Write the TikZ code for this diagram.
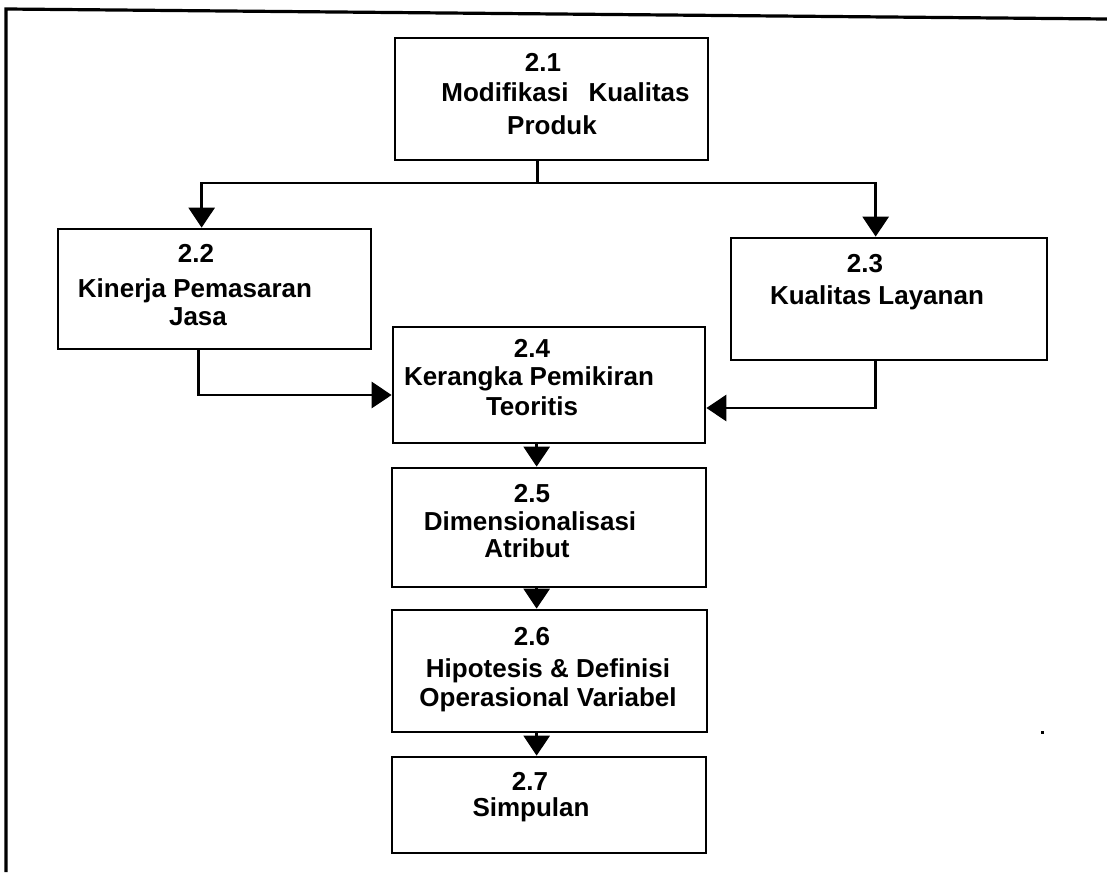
\documentclass[tikz,border=0pt]{standalone}
\usepackage{fontspec}
\setmainfont{Liberation Sans}
\usetikzlibrary{arrows.meta}
\begin{document}
\begin{tikzpicture}[x=1pt,y=-1pt,
  box/.style={draw,line width=2.7pt,inner sep=0pt},
  lbl/.style={anchor=base,inner sep=0pt,font=\fontsize{26}{31}\selectfont\bfseries},
  conn/.style={line width=2.7pt},
  arr/.style={conn,-{Triangle[width=26pt,length=20pt]}}]
\useasboundingbox (0,0) rectangle (1107,872);
% outer frame (left and top edges)
\coordinate (fa) at (6,872);
\coordinate (fb) at (6,9);
\coordinate (fc) at (1107,19);
\draw[line width=3.2pt] (fa) -- (fb) -- (fc);
% boxes
\node[box,minimum width=313pt,minimum height=122pt] (b21) at (551.5,99) {};
\node[box,minimum width=313pt,minimum height=120pt] (b22) at (214.5,289) {};
\node[box,minimum width=316pt,minimum height=122pt] (b23) at (889,299) {};
\node[box,minimum width=312pt,minimum height=116pt] (b24) at (549,385) {};
\node[box,minimum width=314pt,minimum height=119pt] (b25) at (549,527.5) {};
\node[box,minimum width=315pt,minimum height=122pt] (b26) at (549.5,671) {};
\node[box,minimum width=314pt,minimum height=96pt] (b27) at (549,805) {};
% labels
\node[lbl] (t21a) at (543,72) {2.1};
\node[lbl] (t21b) at (565.5,102) {Modifikasi\hspace{20pt}Kualitas};
\node[lbl] (t21c) at (552,135) {Produk};
\node[lbl] (t22a) at (196,262) {2.2};
\node[lbl] (t22b) at (195,297) {Kinerja Pemasaran};
\node[lbl] (t22c) at (198,325) {Jasa};
\node[lbl] (t23a) at (865,272) {2.3};
\node[lbl] (t23b) at (877,304) {Kualitas Layanan};
\node[lbl] (t24a) at (532,357) {2.4};
\node[lbl] (t24b) at (529,385) {Kerangka Pemikiran};
\node[lbl] (t24c) at (532,415) {Teoritis};
\node[lbl] (t25a) at (532,502) {2.5};
\node[lbl] (t25b) at (530,530) {Dimensionalisasi};
\node[lbl] (t25c) at (527,557) {Atribut};
\node[lbl] (t26a) at (532,645) {2.6};
\node[lbl] (t26b) at (548,677) {Hipotesis \& Definisi};
\node[lbl] (t26c) at (548,706) {Operasional Variabel};
\node[lbl] (t27a) at (530,790) {2.7};
\node[lbl] (t27b) at (531,816) {Simpulan};
% connectors
\path ([xshift=144pt]b21.south west) coordinate (s1);
\coordinate (j) at (s1 |- 0,183);
\draw[conn] (s1) -- (j);
\path ([xshift=145pt]b22.north west) coordinate (n2);
\path ([xshift=146pt]b23.north west) coordinate (n3);
\draw[arr] (j) -| (n2);
\draw[arr] (j) -| (n3);
\path ([xshift=142pt]b22.south west) coordinate (s2);
\path ([xshift=146pt]b23.south west) coordinate (s3);
\path ([yshift=-10pt]b24.west) coordinate (w4);
\path ([yshift=-23pt]b24.east) coordinate (e4);
\draw[arr] (s2) |- (w4);
\draw[arr] (s3) |- (e4);
\path ([xshift=145pt]b24.south west) coordinate (s4);
\path ([xshift=146pt]b25.south west) coordinate (s5);
\path ([xshift=146pt]b26.south west) coordinate (s6);
\draw[arr] (s4) -- (s4 |- b25.north);
\draw[arr] (s5) -- (s5 |- b26.north);
\draw[arr] (s6) -- (s6 |- b27.north);
% scan speck
\fill (1041,731) rectangle (1044,734);
\end{tikzpicture}
\end{document}
